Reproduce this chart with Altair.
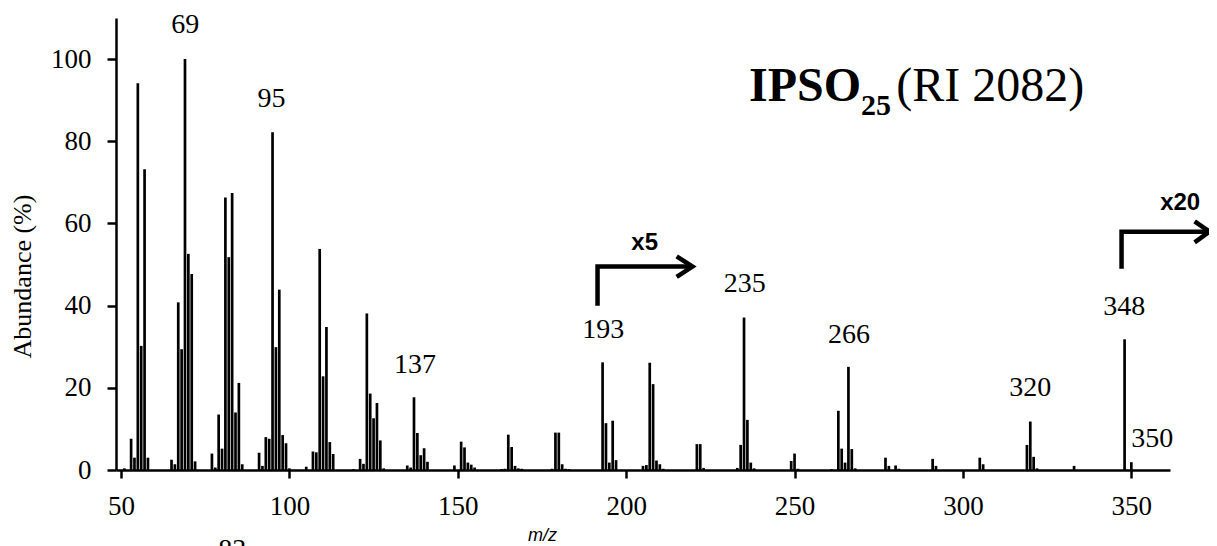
import altair as alt
import pandas as pd

# ---- spectrum data (m/z, relative abundance %) ----
mz = [51, 53, 54, 55, 56, 57, 58,
      65, 66, 67, 68, 69, 70, 71, 72,
      77, 78, 79, 80, 81, 82, 83, 84, 85, 86,
      91, 92, 93, 94, 95, 96, 97, 98, 99, 100,
      105, 107, 108, 109, 110, 111, 112, 113,
      119, 121, 122, 123, 124, 125, 126, 127, 128,
      135, 136, 137, 138, 139, 140, 141,
      149, 151, 152, 153, 154, 155,
      163, 164, 165, 166, 167, 168, 169,
      178, 179, 180, 181, 182, 183,
      193, 194, 195, 196, 197,
      205, 206, 207, 208, 209, 210, 211,
      221, 222, 223,
      233, 234, 235, 236, 237, 238,
      249, 250, 251,
      261, 263, 264, 265, 266, 267, 268,
      277, 278, 280, 281,
      291, 292,
      305, 306,
      319, 320, 321, 322,
      333,
      348, 350]
abundance = [0.4, 7.6, 3.0, 94.1, 30.2, 73.2, 3.0,
             2.5, 1.4, 40.8, 29.4, 100.0, 52.6, 47.7, 2.1,
             4.0, 0.6, 13.5, 5.2, 66.3, 51.8, 67.4, 14.0, 21.2, 1.4,
             4.2, 1.0, 8.0, 7.6, 82.2, 29.9, 43.9, 8.5, 6.5, 0.4,
             0.8, 4.5, 4.3, 53.8, 22.8, 34.8, 6.8, 3.9,
             0.2, 2.7, 1.5, 38.1, 18.6, 12.6, 16.3, 7.2, 0.4,
             1.1, 0.6, 17.7, 9.0, 3.6, 5.3, 2.0,
             1.1, 6.9, 5.5, 1.8, 1.3, 0.6,
             0.2, 0.3, 8.6, 5.6, 1.0, 0.4, 0.3,
             0.3, 9.1, 9.1, 1.4, 0.3, 0.2,
             26.2, 11.4, 1.8, 12.0, 2.4,
             1.0, 1.2, 26.1, 20.9, 2.3, 1.4, 0.3,
             6.3, 6.3, 0.5,
             0.5, 6.1, 37.1, 12.2, 1.8, 0.4,
             2.2, 4.0, 0.3,
             0.2, 14.4, 5.2, 1.8, 25.1, 5.1, 0.4,
             3.0, 1.0, 1.1, 0.3,
             2.7, 1.0,
             3.0, 1.4,
             6.1, 11.8, 3.2, 0.4,
             1.0,
             31.8, 1.9]

# ---- peak labels (83 sits below the axis, mostly outside the picture) ----
label_text = ["69", "95", "137", "193", "235", "266", "320", "348", "350", "83"]
label_mz = [69.1, 94.7, 137.3, 193.2, 235.2, 266.2, 320.0, 347.9, 356.2, 83.0]
label_y = [106.4, 88.4, 23.7, 32.2, 43.2, 31.0, 17.9, 37.8, 5.5, -21.4]

# ---- magnification arrows (x5 and x20) ----
arrow_seg = ["a5", "a5", "a5", "h5", "h5", "h5",
             "a20", "a20", "a20", "h20", "h20", "h20"]
arrow_ord = [0, 1, 2, 0, 1, 2, 0, 1, 2, 0, 1, 2]
arrow_mz = [191.5, 191.5, 219.7, 215.0, 219.7, 215.0,
            347.1, 347.1, 373.2, 368.8, 373.2, 368.8]
arrow_y = [40.0, 49.5, 49.5, 52.0, 49.5, 47.0,
           49.0, 58.0, 58.0, 60.5, 58.0, 55.4]
mag_text = ["x5", "x20"]
mag_mz = [205.5, 364.5]
mag_y = [53.5, 63.3]

# ---- title pieces ----
title_bold = ["IPSO"]
title_bold_mz = [236.5]
title_bold_y = [89.7]
title_sub = ["25"]
title_sub_mz = [269.7]
title_sub_y = [86.5]
title_rest = ["(RI 2082)"]
title_rest_mz = [280.2]
title_rest_y = [89.7]

spec = pd.DataFrame({"mz": mz, "ab": abundance})
labels = pd.DataFrame({"t": label_text, "mz": label_mz, "y": label_y})
arrows = pd.DataFrame({"seg": arrow_seg, "o": arrow_ord, "mz": arrow_mz, "y": arrow_y})
mags = pd.DataFrame({"t": mag_text, "mz": mag_mz, "y": mag_y})
tb = pd.DataFrame({"t": title_bold, "mz": title_bold_mz, "y": title_bold_y})
ts = pd.DataFrame({"t": title_sub, "mz": title_sub_mz, "y": title_sub_y})
tr = pd.DataFrame({"t": title_rest, "mz": title_rest_mz, "y": title_rest_y})

SERIF = "Liberation Serif"
SANS = "Liberation Sans"

xs = alt.Scale(domain=[50, 360], nice=False, zero=False)
ys = alt.Scale(domain=[0, 110], nice=False, zero=True)

common = dict(labelFont=SERIF, labelFontSize=27, labelColor="black", labelFlush=False,
              tickWidth=2.5, tickColor="black", domainColor="black", domainWidth=2.5,
              grid=False)

xax = alt.Axis(values=[50, 100, 150, 200, 250, 300, 350], title="m/z",
               titleFont=SANS, titleFontStyle="italic", titleFontWeight="normal",
               titleFontSize=18, titleColor="black", titleX=426, titleY=70,
               titleBaseline="alphabetic", titleAlign="center",
               labelPadding=15, tickSize=8, **common)
yax = alt.Axis(values=[0, 20, 40, 60, 80, 100], title="Abundance (%)",
               titleFont=SERIF, titleFontWeight="normal", titleFontSize=26,
               titleColor="black", titleX=-86, titleY=258, titleBaseline="alphabetic",
               titleAlign="center", titleAngle=270,
               labelPadding=16, tickSize=9, **common)

bars = alt.Chart(spec).mark_bar(color="black", size=2.7).encode(
    x=alt.X("mz:Q", scale=xs, axis=xax),
    y=alt.Y("ab:Q", scale=ys, axis=yax),
)


def txt(df, **kw):
    return alt.Chart(df).mark_text(color="black", baseline="alphabetic", **kw).encode(
        x=alt.X("mz:Q", scale=xs),
        y=alt.Y("y:Q", scale=ys),
        text="t:N")


peak = txt(labels, font=SERIF, fontSize=28, align="center")

arr = alt.Chart(arrows).mark_line(color="black", strokeWidth=4.5, strokeJoin="miter",
                                  strokeCap="butt").encode(
    x=alt.X("mz:Q", scale=xs), y=alt.Y("y:Q", scale=ys),
    detail="seg:N", order="o:Q")

magt = txt(mags, font=SANS, fontWeight="bold", fontSize=24, align="center")
t1 = txt(tb, font=SERIF, fontWeight="bold", fontSize=48, align="left")
t2 = txt(ts, font=SERIF, fontWeight="bold", fontSize=30, align="left")
t3 = txt(tr, font=SERIF, fontWeight="normal", fontSize=48, align="left")

chart = alt.layer(bars, peak, arr, magt, t1, t2, t3).properties(
    width=1054, height=452,
    background="white",
    autosize=alt.AutoSizeParams(type="none"),
    padding={"left": 108, "top": 10, "right": 39, "bottom": 76},
).configure_view(
    stroke="transparent", strokeWidth=0
).configure_axis(**common)

chart.save("out.html", embed_options={"renderer": "svg", "actions": False})
